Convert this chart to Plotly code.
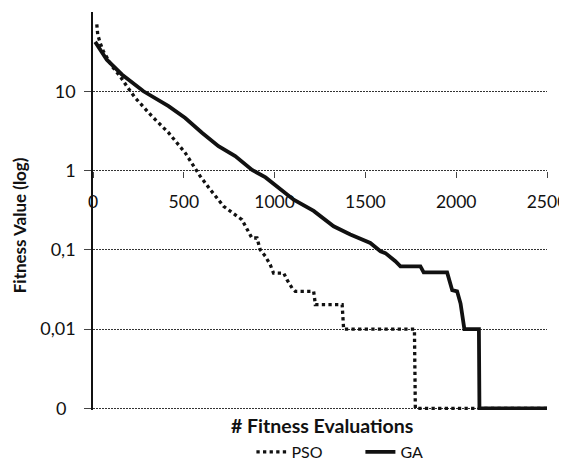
import plotly.graph_objects as go

# ---- data ----
pso_x = [21, 26, 39, 57, 104, 149, 186, 232, 324, 416, 508, 563, 590, 646, 719, 820, 857,
         875, 903, 921, 949, 976, 994, 1050, 1068, 1096, 1114, 1215, 1220, 1224, 1372,
         1380, 1770, 1775, 2500]
pso_y = [70, 52, 41, 32, 20.7, 15.5, 11.6, 8.3, 4.85, 3.0, 1.67, 1.03, 0.85, 0.575, 0.355, 0.24, 0.17,
         0.141, 0.141, 0.1, 0.083, 0.065, 0.051, 0.051, 0.042, 0.033, 0.030, 0.030, 0.0247, 0.0204, 0.0204,
         0.01, 0.01, 0.001, 0.001]

ga_x = [12, 76, 159, 278, 416, 508, 600, 691, 783, 876, 950, 1000, 1105, 1215, 1325, 1417,
        1527, 1583, 1610, 1665, 1693, 1803, 1821, 1950, 1978, 2005, 2024, 2045, 2125, 2128, 2500]
ga_y = [42, 25, 16.3, 10, 6.5, 4.6, 3.0, 2.03, 1.52, 1.02, 0.82, 0.66, 0.43, 0.31, 0.198, 0.156,
        0.122, 0.096, 0.091, 0.072, 0.062, 0.062, 0.052, 0.052, 0.031, 0.030, 0.021, 0.01, 0.01, 0.001, 0.001]

y_tickvals = [0.001, 0.01, 0.1, 1, 10]
y_ticktext = ["0\u00a0\u00a0", "0,01", "0,1", "1", "10"]
x_tickvals = [0, 500, 1000, 1500, 2000, 2500]
x_ticktext = ["0", "500", "1000", "1500", "2000", "2500"]

FONT = "Lato"
y_lo, y_hi = -3.02, 2.0
x_cross = (0 - y_lo) / (y_hi - y_lo)  # x axis crosses at y = 1

fig = go.Figure()
fig.add_trace(go.Scatter(x=pso_x, y=pso_y, mode="lines", name="PSO",
                         line=dict(color="#111111", width=3.3, dash="dot")))
fig.add_trace(go.Scatter(x=ga_x, y=ga_y, mode="lines", name="GA",
                         line=dict(color="#111111", width=3.8)))

# page body adds an 8px offset; height kept so the page does not scroll,
# width wide enough that the last tick label is only trimmed by the window
fig.update_layout(
    template="none",
    width=575, height=452,
    margin=dict(l=85, r=36, t=4, b=50, autoexpand=False),
    paper_bgcolor="white", plot_bgcolor="white",
    font=dict(family=FONT, color="#111"),
    showlegend=True,
    legend=dict(orientation="h", x=0.589, xanchor="center", y=-0.1055, yanchor="middle",
                font=dict(size=16, family=FONT, color="#111"), bgcolor="rgba(0,0,0,0)",
                entrywidth=64, entrywidthmode="pixels"),
    xaxis=dict(range=[0, 2500], tickvals=x_tickvals, ticktext=x_ticktext,
               anchor="free", position=x_cross, side="bottom", automargin=False,
               showgrid=False, zeroline=False, showline=False,
               ticks="outside", ticklen=6, tickcolor="#444", tickwidth=1,
               ticklabeloverflow="allow",
               ticklabelstandoff=9, tickfont=dict(size=17.5, family=FONT, color="#111")),
    yaxis=dict(type="log", range=[y_lo, y_hi], tickvals=y_tickvals, ticktext=y_ticktext,
               automargin=False,
               showgrid=True, gridcolor="#333", griddash="2px,1px", gridwidth=1,
               showline=True, linecolor="#111", linewidth=1.5,
               ticks="outside", ticklen=7, tickcolor="#444", tickwidth=1,
               ticklabelstandoff=5, tickfont=dict(size=18, family=FONT, color="#111")),
    annotations=[
        dict(text="<b># Fitness Evaluations</b>", xref="paper", yref="paper",
             x=0.505, y=-0.038, xanchor="center", yanchor="middle", showarrow=False,
             font=dict(size=19.5, family=FONT, color="#111")),
        dict(text="<b>Fitness Value (log)</b>", xref="paper", yref="paper",
             x=-0.16, y=0.465, xanchor="center", yanchor="middle", showarrow=False,
             textangle=-90, font=dict(size=17, family=FONT, color="#111")),
    ],
)

fig.write_html("out.html")
